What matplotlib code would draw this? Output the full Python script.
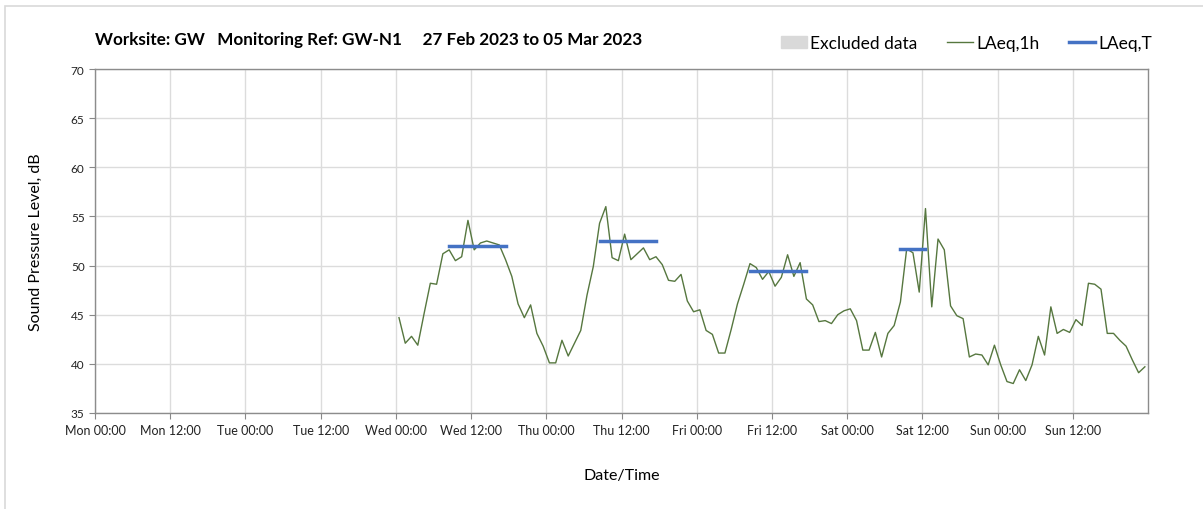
import matplotlib.pyplot as plt
import matplotlib.patches as mpatches
from matplotlib.lines import Line2D

# hourly LAeq values, one per hour from Wed 00:00 (hours since Mon 00:00)
start_hour = 48.5
laeq_1h = [
    44.7, 42.1, 42.8, 41.9, 45.1, 48.2, 48.1, 51.2, 51.6, 50.5,
    50.9, 54.6, 51.6, 52.3, 52.5, 52.3, 52.1, 50.6, 48.9, 46.1,
    44.7, 46.0, 43.1, 41.8, 40.1, 40.1, 42.4, 40.8, 42.1, 43.4,
    47.0, 49.9, 54.3, 56.0, 50.8, 50.5, 53.2, 50.6, 51.2, 51.8,
    50.6, 50.9, 50.1, 48.5, 48.4, 49.1, 46.4, 45.3, 45.5, 43.4,
    43.0, 41.1, 41.1, 43.5, 46.1, 48.1, 50.2, 49.8, 48.6, 49.4,
    47.9, 48.8, 51.1, 48.9, 50.3, 46.6, 46.0, 44.3, 44.4, 44.1,
    45.0, 45.4, 45.6, 44.4, 41.4, 41.4, 43.2, 40.7, 43.1, 43.9,
    46.3, 51.7, 51.3, 47.3, 55.8, 45.8, 52.7, 51.6, 45.9, 44.9,
    44.6, 40.7, 41.0, 40.9, 39.9, 41.9, 39.9, 38.2, 38.0, 39.4,
    38.3, 39.9, 42.8, 40.9, 45.8, 43.1, 43.5, 43.2, 44.5, 43.9,
    48.2, 48.1, 47.6, 43.1, 43.1, 42.4, 41.8, 40.4, 39.1, 39.7,
]
hours = [start_hour + i for i in range(len(laeq_1h))]

# period LAeq,T for each working day
period_start = [56.5, 80.5, 104.5, 128.5]
period_end = [65.5, 89.5, 113.5, 132.5]
period_level = [52.0, 52.5, 49.4, 51.7]

tick_labels = ['Mon 00:00', 'Mon 12:00', 'Tue 00:00', 'Tue 12:00',
               'Wed 00:00', 'Wed 12:00', 'Thu 00:00', 'Thu 12:00',
               'Fri 00:00', 'Fri 12:00', 'Sat 00:00', 'Sat 12:00',
               'Sun 00:00', 'Sun 12:00']

plt.rcParams['font.family'] = ['Lato', 'DejaVu Sans']

fig = plt.figure(figsize=(12.03, 5.10), dpi=100)
ax = fig.add_axes([95 / 1203, 1 - 414 / 510, 1053 / 1203, 344 / 510])

# outer frame
fig.patches.append(mpatches.Rectangle((5 / 1203, -0.05), 1.2, 1 - 7 / 510 + 0.05,
                                      transform=fig.transFigure, fill=False,
                                      edgecolor='#d9d9d9', linewidth=1.2))

ax.plot(hours, laeq_1h, color='#56773f', linewidth=1.0, zorder=3)
for s, e, lv in zip(period_start, period_end, period_level):
    ax.plot([s, e], [lv, lv], color='#4472c4', linewidth=2.5, zorder=4)

ax.set_xlim(0, 168)
ax.set_ylim(35, 70)
ax.set_xticks([12 * i for i in range(len(tick_labels))])
ax.set_xticklabels(tick_labels, fontsize=9, color='#222222')
ax.set_yticks(range(35, 71, 5))
ax.tick_params(axis='y', labelsize=8.5, colors='#222222', length=4, color='#888888')
ax.tick_params(axis='x', length=4, color='#888888', pad=4)
ax.grid(True, color='#dcdcdc', linewidth=1.0)
ax.set_axisbelow(True)
for sp in ax.spines.values():
    sp.set_color('#8c8c8c')
    sp.set_linewidth(1.0)

ax.set_ylabel('Sound Pressure Level, dB', fontsize=11.5, labelpad=20)
ax.set_xlabel('Date/Time', fontsize=11.5, labelpad=23)

fig.text(95 / 1203, 1 - 40 / 510, 'Worksite: GW   Monitoring Ref: GW-N1     27 Feb 2023 to 05 Mar 2023',
         fontsize=12.3, fontweight='bold', va='center', ha='left')

handles = [mpatches.Patch(color='#d9d9d9', label='Excluded data'),
           Line2D([], [], color='#56773f', linewidth=1.0, label='LAeq,1h'),
           Line2D([], [], color='#4472c4', linewidth=2.5, label='LAeq,T')]
fig.legend(handles=handles, loc='center right', bbox_to_anchor=(1168 / 1203, 1 - 44 / 510),
           ncol=3, frameon=False, fontsize=12.5, handlelength=1.5, handletextpad=0.2,
           columnspacing=1.7)

fig.savefig('out.png', dpi=100)
